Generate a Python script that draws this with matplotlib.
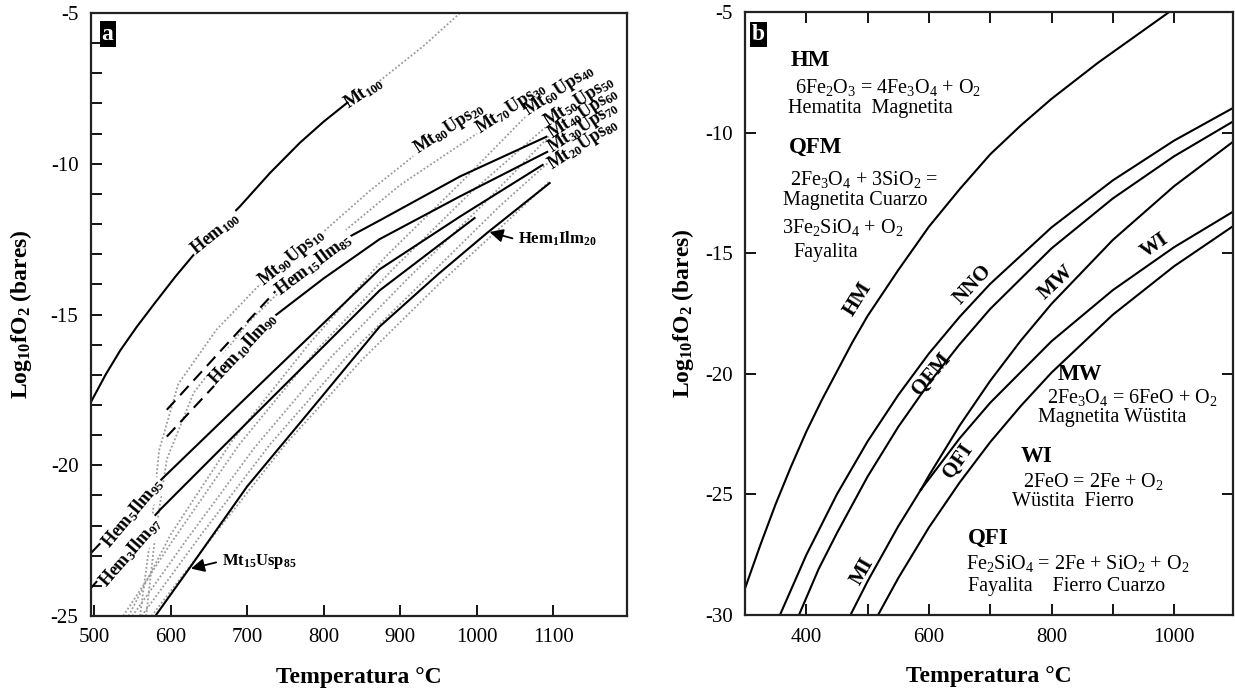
import matplotlib
matplotlib.use("Agg")
import matplotlib.pyplot as plt
import numpy as np

plt.rcParams['font.family'] = ['Liberation Serif', 'DejaVu Serif']
plt.rcParams['mathtext.fontset'] = 'custom'
plt.rcParams['mathtext.rm'] = 'Liberation Serif'
plt.rcParams['mathtext.default'] = 'regular'
plt.rcParams['axes.unicode_minus'] = False

# ---------------- Panel a data (T in degC, log fO2) ----------------
hem100_T = [496, 515, 534, 556, 580, 606, 634, 662, 691, 730, 769, 800, 832]
hem100_y = [-17.9, -17.0, -16.2, -15.4, -14.6, -13.75, -12.9, -12.15, -11.4, -10.3, -9.3, -8.6, -7.95]
mt100_T = [873, 930, 978]
mt100_y = [-7.25, -6.1, -5.0]

hem15_dash_T = [595, 667, 739]
hem15_dash_y = [-18.16, -16.16, -14.17]
hem15_T = [739, 832, 873, 978, 1092]
hem15_y = [-14.17, -12.44, -11.88, -10.42, -9.09]

hem10_dash_T = [595, 667]
hem10_dash_y = [-19.05, -17.09]
hem10_T = [667, 723, 800, 873, 978, 1093]
hem10_y = [-17.09, -15.3, -13.8, -12.5, -11.08, -9.59]

hem5_T = [496, 590, 730, 873, 978, 1087]
hem5_y = [-22.91, -20.42, -16.99, -13.5, -11.75, -10.02]

hem3_T = [496, 586, 730, 873, 998]
hem3_y = [-24.07, -21.48, -17.82, -14.2, -11.78]

hem1_T = [580, 625, 700, 795, 873, 950, 1013, 1096]
hem1_y = [-25.0, -23.4, -20.7, -17.8, -15.4, -13.65, -12.3, -10.62]

mt90_T = [560, 573, 585, 610, 660, 714, 802, 860, 917]
mt90_y = [-25.0, -22.5, -19.5, -17.3, -15.5, -14.07, -12.2, -10.9, -9.75]
mt80_T = [568, 580, 595, 630, 700, 800, 900, 1000]
mt80_y = [-25.0, -22.3, -19.8, -17.6, -15.3, -12.8, -10.7, -9.0]
mt60_T = [545, 600, 680, 780, 880, 980, 1063]
mt60_y = [-25.0, -22.3, -19.2, -16.0, -13.1, -10.6, -8.45]
mt50_T = [538, 600, 690, 790, 890, 990, 1089]
mt50_y = [-25.0, -22.6, -19.3, -16.2, -13.5, -11.0, -8.8]
mt40_T = [550, 620, 710, 810, 910, 1010, 1094]
mt40_y = [-25.0, -22.5, -19.4, -16.4, -13.8, -11.3, -9.1]
mt30_T = [562, 640, 730, 830, 930, 1030, 1096]
mt30_y = [-25.0, -22.3, -19.3, -16.4, -13.9, -11.4, -9.9]
mt20_T = [575, 660, 750, 850, 950, 1040, 1094]
mt20_y = [-25.0, -22.2, -19.3, -16.5, -14.0, -11.9, -10.6]

a_xticks = [500, 600, 700, 800, 900, 1000, 1100]
a_yticks = [-25, -20, -15, -10, -5]

# ---------------- Panel b data ----------------
hm_T = [300, 325, 350, 375, 400, 425, 450, 475, 500, 550, 600, 650, 700, 750, 800, 876, 992]
hm_y = [-28.9, -27.1, -25.4, -23.85, -22.4, -21.1, -19.9, -18.7, -17.6, -15.7, -13.9, -12.35, -10.9, -9.7, -8.6, -7.1, -5.0]
nno_T = [357, 400, 450, 500, 550, 600, 650, 700, 800, 900, 1000, 1096]
nno_y = [-30.0, -27.51, -24.99, -22.80, -20.88, -19.16, -17.64, -16.27, -13.93, -11.98, -10.33, -8.98]
qfm_T = [388, 420, 450, 500, 550, 600, 650, 700, 800, 900, 1000, 1096]
qfm_y = [-30.0, -28.1, -26.60, -24.26, -22.2, -20.39, -18.78, -17.31, -14.80, -12.73, -10.98, -9.54]
mi_T = [472, 500, 550, 587]
mi_y = [-30.0, -28.60, -26.32, -24.80]
mw_T = [587, 600, 650, 700, 750, 800, 900, 1000, 1096]
mw_y = [-24.80, -24.22, -22.15, -20.29, -18.62, -17.10, -14.45, -12.22, -10.38]
wi_T = [587, 650, 700, 800, 900, 1000, 1096]
wi_y = [-24.80, -22.68, -21.20, -18.65, -16.53, -14.75, -13.28]
qfi_T = [517, 550, 600, 650, 700, 750, 800, 900, 1000, 1096]
qfi_y = [-30.0, -28.47, -26.37, -24.51, -22.83, -21.33, -19.95, -17.55, -15.54, -13.88]

b_xticks = [300, 400, 500, 600, 700, 800, 900, 1000]
b_xlabels = ['', '400', '', '600', '', '800', '', '1000']
b_yticks = [-30, -25, -20, -15, -10, -5]

W, H = 1235, 688
fig = plt.figure(figsize=(W / 100, H / 100), dpi=100)
axa = fig.add_axes([91 / W, 1 - 616 / H, (627 - 91) / W, (616 - 13) / H])
axb = fig.add_axes([745 / W, 1 - 615 / H, (1233 - 745) / W, (615 - 12) / H])

SOL = dict(color='black', lw=1.5, solid_capstyle='butt', solid_joinstyle='round')
DOT = dict(color='#9a9a9a', lw=1.3, ls=(0, (1, 1.2)))
DASH = dict(color='black', lw=1.5, ls=(0, (6, 3.5)))

# ---- panel a ----
ax = axa
for T, y in [(mt90_T, mt90_y), (mt80_T, mt80_y), (mt60_T, mt60_y),
             (mt50_T, mt50_y), (mt40_T, mt40_y), (mt30_T, mt30_y), (mt20_T, mt20_y),
             (mt100_T, mt100_y)]:
    ax.plot(T, y, **DOT)
for T, y in [(hem100_T, hem100_y), (hem15_T, hem15_y), (hem10_T, hem10_y),
             (hem5_T, hem5_y), (hem3_T, hem3_y), (hem1_T, hem1_y)]:
    ax.plot(T, y, **SOL)
ax.plot(hem15_dash_T, hem15_dash_y, **DASH)
ax.plot(hem10_dash_T, hem10_dash_y, **DASH)

ax.set_xlim(496, 1196)
ax.set_ylim(-25, -5)
ax.set_xticks(a_xticks)
ax.set_yticks(a_yticks)
ax.set_yticks(np.arange(-25, -4, 1), minor=True)

LBL = dict(fontsize=13, fontweight='bold', rotation_mode='anchor', va='center', zorder=5)
WB = dict(facecolor='white', edgecolor='none', pad=0.6)
ax.text(658, -12.3, 'Hem$_{100}$', rotation=39, ha='center', bbox=WB, **LBL)
ax.text(852, -7.65, 'Mt$_{100}$', rotation=34, ha='center', **LBL)
ax.text(758, -13.1, 'Mt$_{90}$Ups$_{10}$', rotation=39, ha='center', bbox=WB, **LBL)
ax.text(787, -13.35, 'Hem$_{15}$Ilm$_{85}$', rotation=37, ha='center', bbox=WB, **LBL)
ax.text(694, -16.13, 'Hem$_{10}$Ilm$_{90}$', rotation=47, ha='center', bbox=WB, **LBL)
ax.text(550, -21.6, 'Hem$_{5}$Ilm$_{95}$', rotation=50, ha='center', bbox=WB, **LBL)
ax.text(548, -22.9, 'Hem$_{3}$Ilm$_{97}$', rotation=49, ha='center', bbox=WB, **LBL)
ax.text(919, -9.55, 'Mt$_{80}$Ups$_{20}$', rotation=33, ha='left', **LBL)
ax.text(1001, -8.9, 'Mt$_{70}$Ups$_{30}$', rotation=33, ha='left', **LBL)
ax.text(1063, -8.29, 'Mt$_{60}$Ups$_{40}$', rotation=33, ha='left', **LBL)
ax.text(1089, -8.66, 'Mt$_{50}$Ups$_{50}$', rotation=33, ha='left', **LBL)
ax.text(1094, -9.05, 'Mt$_{40}$Ups$_{60}$', rotation=33, ha='left', **LBL)
ax.text(1095, -9.52, 'Mt$_{30}$Ups$_{70}$', rotation=33, ha='left', **LBL)
ax.text(1094, -10.08, 'Mt$_{20}$Ups$_{80}$', rotation=33, ha='left', **LBL)

ax.annotate('', xy=(623, -23.45), xytext=(663, -23.2),
            arrowprops=dict(arrowstyle='-|>', color='black', lw=1.3, mutation_scale=20))
ax.text(667, -23.2, 'Mt$_{15}$Usp$_{85}$', fontsize=12, fontweight='bold', va='center', ha='left')
ax.annotate('', xy=(1013, -12.24), xytext=(1050, -12.5),
            arrowprops=dict(arrowstyle='-|>', color='black', lw=1.3, mutation_scale=20))
ax.text(1053, -12.5, 'Hem$_{1}$Ilm$_{20}$', fontsize=12, fontweight='bold', va='center', ha='left')

ax.text(0.02, 0.965, 'a', transform=ax.transAxes, color='white', fontsize=17, fontweight='bold',
        va='center', ha='left', bbox=dict(facecolor='black', edgecolor='none', pad=1.5))

# ---- panel b ----
ax = axb
for T, y in [(hm_T, hm_y), (nno_T, nno_y), (qfm_T, qfm_y), (mi_T, mi_y),
             (mw_T, mw_y), (wi_T, wi_y), (qfi_T, qfi_y)]:
    ax.plot(T, y, color='black', lw=1.5, solid_joinstyle='round')
ax.set_xlim(300, 1096)
ax.set_ylim(-30, -5)
ax.set_xticks(b_xticks)
ax.set_xticklabels(b_xlabels)
ax.set_yticks(b_yticks)

BL = dict(fontsize=15, fontweight='bold', rotation_mode='anchor', ha='center', va='center')
ax.text(485, -16.9, 'HM', rotation=58, **BL)
ax.text(672, -16.3, 'NNO', rotation=47, **BL)
ax.text(604, -20.0, 'QFM', rotation=50, **BL)
ax.text(808, -16.2, 'MW', rotation=43, **BL)
ax.text(968, -14.7, 'WI', rotation=35, **BL)
ax.text(648, -23.6, 'QFI', rotation=55, **BL)
ax.text(491, -28.2, 'MI', rotation=60, **BL)

def ftxt(px, py, s, bold=False, size=14.5):
    ax.text((px - 745) / 488, 1 - (py - 12) / 603, s, transform=ax.transAxes,
            fontsize=size, fontweight='bold' if bold else 'normal', ha='center', va='center')

ftxt(810, 61, 'HM', True, 16.5)
ftxt(888, 87, '6Fe$_2$O$_3$ = 4Fe$_3$O$_4$ + O$_2$')
ftxt(870, 108, 'Hematita  Magnetita')
ftxt(816, 147, 'QFM', True, 16.5)
ftxt(864, 179, '2Fe$_3$O$_4$ + 3SiO$_2$ =')
ftxt(855, 201, 'Magnetita Cuarzo')
ftxt(843, 228, '3Fe$_2$SiO$_4$ + O$_2$')
ftxt(826, 252, 'Fayalita')
ftxt(1080, 374, 'MW', True, 16.5)
ftxt(1132, 397, '2Fe$_3$O$_4$ = 6FeO + O$_2$')
ftxt(1112, 417, 'Magnetita Wüstita')
ftxt(1037, 457, 'WI', True, 16.5)
ftxt(1093, 481, '2FeO = 2Fe + O$_2$')
ftxt(1073, 501, 'Wüstita  Fierro')
ftxt(988, 538, 'QFI', True, 16.5)
ftxt(1078, 564, 'Fe$_2$SiO$_4$ = 2Fe + SiO$_2$ + O$_2$')
ftxt(1067, 586, 'Fayalita    Fierro Cuarzo')

ax.text(0.014, 0.963, 'b', transform=ax.transAxes, color='white', fontsize=17, fontweight='bold',
        va='center', ha='left', bbox=dict(facecolor='black', edgecolor='none', pad=1.5))

# ---- common axis styling ----
for ax, pad in [(axa, 12), (axb, 6)]:
    for s in ax.spines.values():
        s.set_linewidth(1.6)
        s.set_color('#222222')
    ax.tick_params(which='both', direction='in', length=8, width=1.3, labelsize=15, pad=9)
    ax.set_xlabel('Temperatura °C', fontsize=17, fontweight='bold', labelpad=14)
    ax.set_ylabel('Log$_{10}$fO$_2$ (bares)', fontsize=17, fontweight='bold', labelpad=pad)
axb.tick_params(which='both', top=True, right=True)

fig.savefig('out.png', dpi=100)
